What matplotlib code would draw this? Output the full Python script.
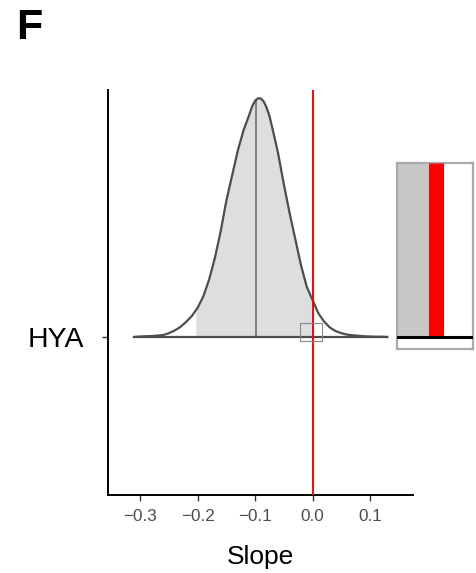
import matplotlib
matplotlib.use('Agg')
import matplotlib.pyplot as plt
import numpy as np

plt.rcParams['font.family'] = ['Liberation Sans', 'DejaVu Sans']

# posterior density of the slope (peak scaled to 1)
slope = [-0.31, -0.30, -0.29, -0.28, -0.27, -0.26, -0.25, -0.24, -0.23, -0.22,
         -0.21, -0.20, -0.19, -0.18, -0.17, -0.16, -0.15, -0.14, -0.13, -0.12,
         -0.11, -0.105, -0.10, -0.095, -0.09, -0.085, -0.08, -0.075, -0.07, -0.06,
         -0.05, -0.04, -0.03, -0.02, -0.01, 0.00, 0.01, 0.02, 0.03, 0.04,
         0.05, 0.06, 0.07, 0.08, 0.09, 0.10, 0.11, 0.12, 0.13]
density = [0.000, 0.002, 0.003, 0.004, 0.006, 0.008, 0.016, 0.027, 0.042, 0.063,
           0.088, 0.122, 0.170, 0.240, 0.330, 0.440, 0.570, 0.675, 0.780, 0.865,
           0.930, 0.965, 0.988, 0.998, 0.998, 0.985, 0.960, 0.925, 0.875, 0.770,
           0.640, 0.520, 0.410, 0.300, 0.210, 0.155, 0.100, 0.065, 0.040, 0.025,
           0.016, 0.010, 0.007, 0.005, 0.003, 0.002, 0.001, 0.001, 0.000]
median = -0.098
interval = [-0.203, 0.0]
ref_line = 0.0
group = 'HYA'
xticks = [-0.3, -0.2, -0.1, 0.0, 0.1]

x = np.array(slope)
d = np.array(density)

fig = plt.figure(figsize=(4.76, 5.73), dpi=100)
ax = fig.add_axes([0.2269, 0.1361, 0.6408, 0.7068])

inside = (x >= interval[0]) & (x <= interval[1])
xi = np.concatenate([[interval[0]], x[inside], [interval[1]]])
di = np.interp(xi, x, d)
ax.fill_between(xi, 0, di, color='#DEDEDE', lw=0, zorder=1)
ax.plot(x, d, color='#4D4D4D', lw=1.6, zorder=3, solid_joinstyle='round')
ax.plot([x[0], x[-1]], [0, 0], color='#4D4D4D', lw=1.6, zorder=3)
ax.plot([median, median], [0, np.interp(median, x, d)], color='#777777', lw=1.3, zorder=2)
ax.axvline(ref_line, color='#FF0000', lw=1.4, zorder=4)

# small box marking the zoomed area
bx0, bx1 = -0.021, 0.017
by0, by1 = -0.017, 0.058
ax.plot([bx0, bx1, bx1, bx0, bx0], [by0, by0, by1, by1, by0], color='#888888', lw=0.8, zorder=5)

ax.set_xlim(-0.356, 0.175)
ax.set_ylim(-0.661, 1.033)
ax.set_xticks(xticks)
ax.set_xticklabels(['\u22120.3', '\u22120.2', '\u22120.1', '0.0', '0.1'])
ax.set_yticks([0])
ax.set_yticklabels([group])
for s in ['top', 'right']:
    ax.spines[s].set_visible(False)
for s in ['left', 'bottom']:
    ax.spines[s].set_linewidth(1.4)
    ax.spines[s].set_color('black')
ax.tick_params(axis='x', colors='#333333', labelcolor='#4D4D4D', labelsize=12.3, length=4, width=1.0, pad=6)
ax.tick_params(axis='y', colors='#333333', labelcolor='black', labelsize=20.5, length=4, width=1.0, pad=13)
ax.set_xlabel('Slope', fontsize=19, labelpad=15)

# inset zoom
ins = fig.add_axes([397 / 476, 1 - 349 / 573, 76 / 476, 186 / 573])
ylo, yhi = -0.001, 0.0144
ins.fill_between(xi, 0, di, color='#C8C8C8', lw=0, zorder=1)
ins.axvline(ref_line, ymin=(0 - ylo) / (yhi - ylo), color='#FF0000', lw=10.8,
            solid_capstyle='butt', zorder=3)
ins.plot([x[0], x[-1]], [0, 0], color='black', lw=2.2, zorder=4)
ins.set_xlim(-0.0042, 0.0039)
ins.set_ylim(ylo, yhi)
ins.set_xticks([])
ins.set_yticks([])
for s in ins.spines.values():
    s.set_color('#AAAAAA')
    s.set_linewidth(1.6)

fig.text(16 / 476, 1 - 28 / 573, 'F', fontsize=31, fontweight='bold', va='center', ha='left')

fig.savefig('out.png', dpi=100)
